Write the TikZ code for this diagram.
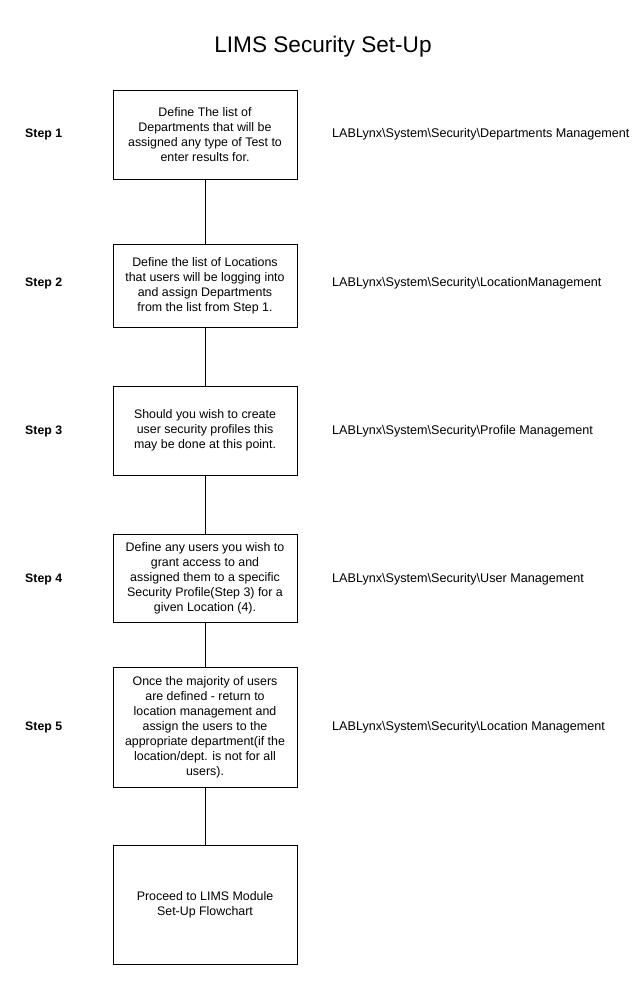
\documentclass[tikz,border=0pt]{standalone}
\usepackage{fontspec}
\setmainfont{Liberation Sans}
\begin{document}
\begin{tikzpicture}[x=1pt,y=-1pt,
  stepbox/.style={draw=black, line width=0.9pt, rectangle, minimum width=184pt, inner sep=0pt, align=center, font=\fontsize{12.4}{15}\selectfont},
  steplabel/.style={anchor=west, inner sep=0pt, font=\fontsize{12.3}{15}\selectfont\bfseries},
  pathlabel/.style={anchor=west, inner sep=0pt, font=\fontsize{12.6}{15}\selectfont},
  conn/.style={draw=black, line width=0.9pt}]
\useasboundingbox[fill=white] (0,0) rectangle (644,982);
\node[font=\fontsize{22.6}{26}\selectfont, inner sep=0pt] (title) at (323,47) {LIMS Security Set-Up};

\node[stepbox, minimum height=89pt] (b1) at (205,134.5) {Define The list of\\Departments that will be\\assigned any type of Test to\\enter results for.};
\node[stepbox, minimum height=83pt] (b2) at (205,285.5) {Define the list of Locations\\that users will be logging into\\and assign Departments\\from the list from Step 1.};
\node[stepbox, minimum height=89pt] (b3) at (205,430.5) {Should you wish to create\\user security profiles this\\may be done at this point.};
\node[stepbox, minimum height=88pt] (b4) at (205,578) {Define any users you wish to\\grant access to and\\assigned them to a specific\\Security Profile(Step 3) for a\\given Location (4).};
\node[stepbox, minimum height=120pt] (b5) at (205,727) {Once the majority of users\\are defined - return to\\location management and\\assign the users to the\\appropriate department(if the\\location/dept. is not for all\\users).};
\node[stepbox, minimum height=119pt] (b6) at (205,904.5) {Proceed to LIMS Module\\Set-Up Flowchart};

\node[steplabel] (s1) at (25,134) {Step 1};
\node[steplabel] (s2) at (25,283) {Step 2};
\node[steplabel] (s3) at (25,431) {Step 3};
\node[steplabel] (s4) at (25,579) {Step 4};
\node[steplabel] (s5) at (25,727) {Step 5};

\node[pathlabel] (p1) at (332,134) {LABLynx\textbackslash System\textbackslash Security\textbackslash Departments Management};
\node[pathlabel] (p2) at (332,283) {LABLynx\textbackslash System\textbackslash Security\textbackslash LocationManagement};
\node[pathlabel] (p3) at (332,431) {LABLynx\textbackslash System\textbackslash Security\textbackslash Profile Management};
\node[pathlabel] (p4) at (332,579) {LABLynx\textbackslash System\textbackslash Security\textbackslash User Management};
\node[pathlabel] (p5) at (332,727) {LABLynx\textbackslash System\textbackslash Security\textbackslash Location Management};

\draw[conn] (b1.south) -- (b2.north);
\draw[conn] (b2.south) -- (b3.north);
\draw[conn] (b3.south) -- (b4.north);
\draw[conn] (b4.south) -- (b5.north);
\draw[conn] (b5.south) -- (b6.north);
\end{tikzpicture}
\end{document}
